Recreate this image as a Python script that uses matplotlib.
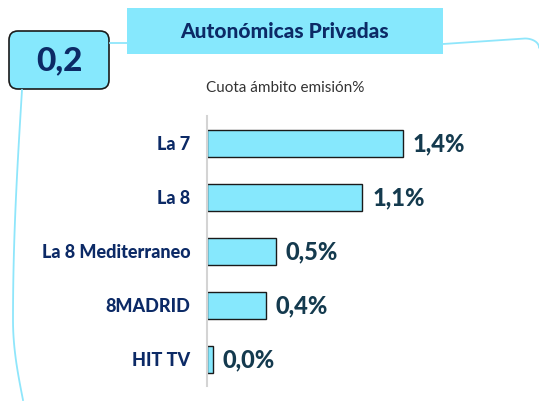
import numpy as np
import matplotlib
matplotlib.use("Agg")
from matplotlib import pyplot as plt
from matplotlib.patches import FancyBboxPatch, Rectangle

#------------------------------------------------------------
# data
categories = ["La 7", "La 8", "La 8 Mediterraneo", "8MADRID", "HIT TV"]
values = [1.40, 1.11, 0.49, 0.42, 0.04]
value_labels = ["1,4%", "1,1%", "0,5%", "0,4%", "0,0%"]
title = "Autonómicas Privadas"
subtitle = "Cuota ámbito emisión%"
badge = "0,2"

#------------------------------------------------------------
# style
W, H = 539, 401
cyan = "#86e8fd"
navy = "#0c2a66"
label_col = "#143a4e"
line_col = "#8fe6fb"
font = ["Lato", "DejaVu Sans"]

fig = plt.figure(figsize=(W/100, H/100), dpi=100)

#------------------------------------------------------------
# background decoration in pixel coords
bg = fig.add_axes([0, 0, 1, 1])
bg.set_xlim(0, W)
bg.set_ylim(H, 0)
bg.axis("off")

# connector lines
bg.plot([110, 127], [43, 43], color=line_col, lw=1.3)
t = np.linspace(0, 1, 30)
rx = np.concatenate([np.linspace(443, 525, 10), 525 + 14*np.sin(t*np.pi/2)])
ry = np.concatenate([np.linspace(44, 38.5, 10), 38.5 + 9*(1-np.cos(t*np.pi/2))])
bg.plot(rx, ry, color=line_col, lw=1.3)
ly = np.linspace(90, 400, 60)
lx = 22 - 9*np.sin(np.clip((ly-90)/230, 0, 1)*np.pi/2)
tail = ly > 320
lx[tail] = 13 + 10*(1-np.cos((ly[tail]-320)/80*np.pi/2))
bg.plot(lx, ly, color=line_col, lw=1.3)

# badge
bg.add_patch(FancyBboxPatch((9, 31), 100, 58, boxstyle="round,pad=0,rounding_size=9",
                            fc=cyan, ec="#1a1a1a", lw=1.2))
bg.text(59, 61, badge, ha="center", va="center", fontsize=24, weight=900,
        color=navy, family=font)

# title box
bg.add_patch(Rectangle((127, 8), 316, 46, fc=cyan, ec="none"))
bg.text(285, 32, title, ha="center", va="center", fontsize=15, weight=900,
        color=navy, family=font)
bg.text(285, 88, subtitle, ha="center", va="center", fontsize=11,
        color="#333333", family=font)

#------------------------------------------------------------
# bar chart
px_per_unit = 140
ax_left, ax_top, ax_bottom = 207, 116, 386
ax_w = 300
ax = fig.add_axes([ax_left/W, 1 - ax_bottom/H, ax_w/W, (ax_bottom-ax_top)/H])
ax.patch.set_alpha(0)

y = np.arange(len(categories))
ax.barh(y, values, height=0.5, color=cyan, edgecolor="#1a1a1a", linewidth=1)
ax.set_xlim(0, ax_w/px_per_unit)
ax.set_ylim(len(categories) - 0.5, -0.5)

for yi, v, lab in zip(y, values, value_labels):
    ax.text(v + 0.07, yi + 0.02, lab, ha="left", va="center", fontsize=17,
            weight=900, color=label_col, family=font)

ax.set_yticks(y)
ax.set_yticklabels(categories, fontsize=13, weight=900, color=navy, family=font)
ax.tick_params(axis="y", length=0, pad=12)
ax.set_xticks([])
for s in ["top", "right", "bottom"]:
    ax.spines[s].set_visible(False)
ax.spines["left"].set_color("#d4d4d4")
ax.spines["left"].set_linewidth(1.5)

plt.savefig("out.png", dpi=100)
